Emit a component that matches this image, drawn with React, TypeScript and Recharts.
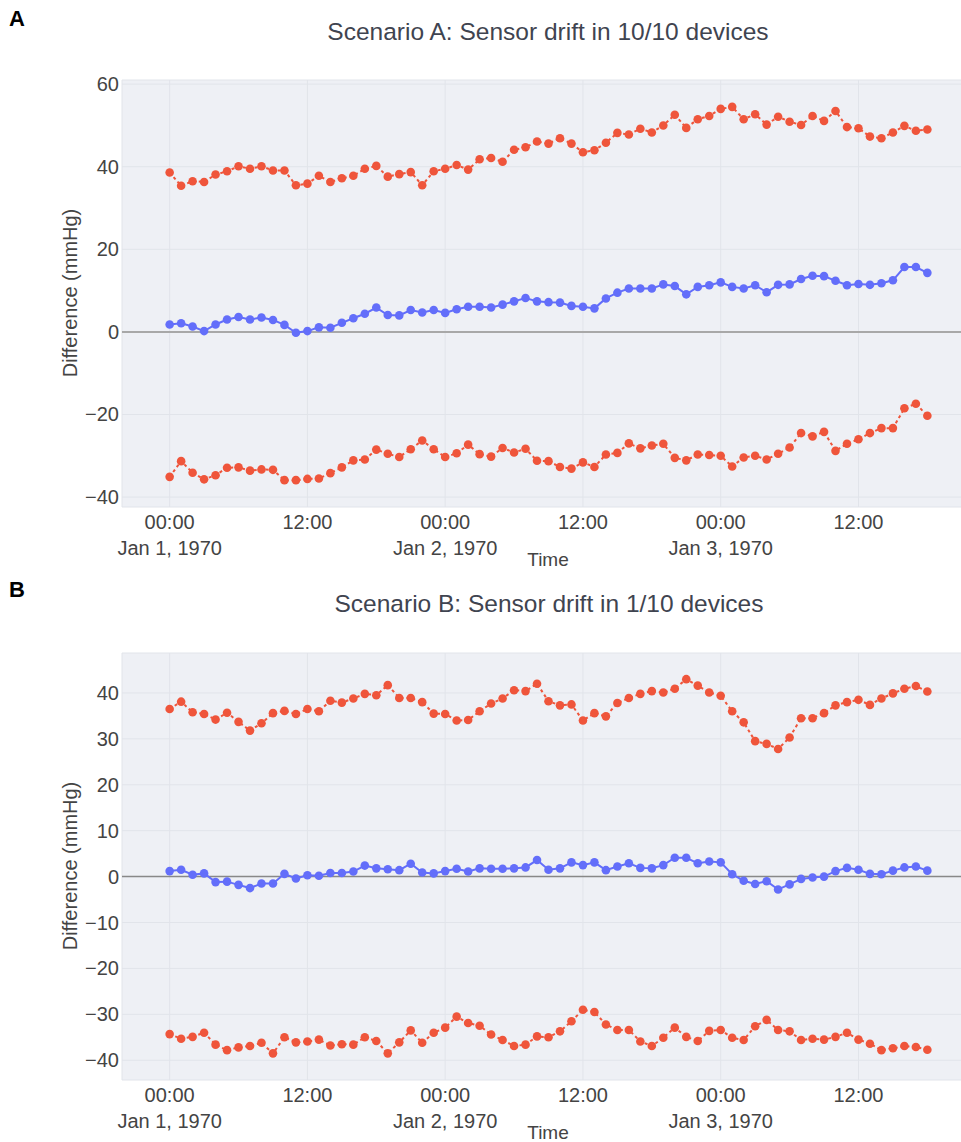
import React from 'react';
import { LineChart, Line, XAxis, YAxis, CartesianGrid, ReferenceLine } from 'recharts';

// ---------- data ----------
const hours = [
  0, 1, 2, 3, 4, 5, 6, 7, 8, 9, 10, 11, 12, 13, 14, 15, 16, 17, 18, 19, 20, 21, 22,
  23, 24, 25, 26, 27, 28, 29, 30, 31, 32, 33, 34, 35, 36, 37, 38, 39, 40, 41, 42, 43,
  44, 45, 46, 47, 48, 49, 50, 51, 52, 53, 54, 55, 56, 57, 58, 59, 60, 61, 62, 63, 64,
  65, 66,
];

const tickHours = [0, 12, 24, 36, 48, 60];
const tickTimeLabels = ['00:00', '12:00', '00:00', '12:00', '00:00', '12:00'];
const tickDateLabels = ['Jan 1, 1970', '', 'Jan 2, 1970', '', 'Jan 3, 1970', ''];

const yTicksA = [-40, -20, 0, 20, 40, 60];
const yTicksB = [-40, -30, -20, -10, 0, 10, 20, 30, 40];

const aUpper = [
  38.6, 35.4, 36.5, 36.3, 38.1, 38.9, 40.1, 39.5, 40.1, 39.1, 39.1, 35.5, 35.9, 37.8,
  36.3, 37.2, 37.8, 39.5, 40.2, 37.6, 38.2, 38.7, 35.5, 38.9, 39.5, 40.4, 39.3, 41.8,
  42.1, 41.2, 44.1, 44.7, 46.1, 45.6, 46.9, 45.6, 43.5, 44.0, 45.8, 48.2, 47.8, 49.2,
  48.3, 50.0, 52.6, 49.4, 51.5, 52.3, 54.0, 54.5, 51.5, 52.7, 50.2, 52.1, 50.9, 50.1,
  52.3, 51.1, 53.5, 49.6, 49.3, 47.3, 46.9, 48.3, 49.9, 48.7, 49.0,
];
const aMid = [
  1.8, 2.1, 1.3, 0.2, 1.8, 3.0, 3.6, 3.0, 3.5, 2.9, 1.7, -0.2, 0.2, 1.1, 1.0, 2.2,
  3.3, 4.4, 5.9, 4.1, 4.0, 5.3, 4.7, 5.3, 4.6, 5.5, 6.1, 6.1, 5.9, 6.6, 7.4, 8.2, 7.4,
  7.2, 7.1, 6.3, 6.1, 5.7, 8.1, 9.5, 10.5, 10.5, 10.5, 11.5, 11.1, 9.1, 10.9, 11.3,
  12.0, 10.9, 10.5, 11.3, 9.6, 11.4, 11.5, 12.8, 13.6, 13.5, 12.4, 11.3, 11.6, 11.4,
  11.8, 12.5, 15.7, 15.7, 14.3,
];
const aLower = [
  -35.1, -31.3, -34.1, -35.7, -34.7, -32.9, -32.8, -33.6, -33.3, -33.4, -35.9, -35.9,
  -35.6, -35.5, -34.2, -32.8, -31.1, -30.9, -28.5, -29.5, -30.3, -28.4, -26.3, -28.4,
  -30.3, -29.4, -27.3, -29.6, -30.2, -28.1, -29.2, -28.3, -31.2, -31.3, -32.7, -33.1,
  -31.6, -32.7, -29.7, -29.3, -27.0, -28.2, -27.5, -27.1, -30.5, -31.1, -29.7, -29.8,
  -30.0, -32.6, -30.4, -30.0, -30.9, -29.5, -28.0, -24.5, -25.3, -24.2, -28.8, -27.1,
  -26.0, -24.5, -23.3, -23.3, -18.5, -17.4, -20.3,
];

const bUpper = [
  36.5, 38.1, 35.8, 35.4, 34.2, 35.7, 33.7, 31.8, 33.4, 35.6, 36.1, 35.4, 36.5, 36.0,
  38.3, 37.9, 38.8, 39.8, 39.5, 41.7, 38.9, 38.9, 38.0, 35.5, 35.4, 34.0, 34.1, 36.0,
  37.7, 38.8, 40.6, 40.4, 42.0, 38.2, 37.3, 37.5, 34.0, 35.6, 34.9, 37.8, 38.9, 39.8,
  40.4, 40.1, 40.9, 43.0, 41.6, 40.1, 39.4, 36.0, 33.6, 29.5, 28.9, 27.8, 30.3, 34.5,
  34.5, 35.6, 37.3, 38.0, 38.5, 37.4, 38.8, 39.9, 40.9, 41.5, 40.3,
];
const bMid = [
  1.2, 1.5, 0.4, 0.7, -1.2, -1.1, -1.8, -2.5, -1.5, -1.5, 0.6, -0.4, 0.3, 0.2, 0.8,
  0.8, 1.1, 2.4, 1.8, 1.6, 1.4, 2.8, 0.9, 0.7, 1.2, 1.7, 1.1, 1.8, 1.7, 1.7, 1.8, 2.0,
  3.6, 1.5, 1.8, 3.1, 2.5, 3.1, 1.4, 2.2, 2.9, 1.9, 1.8, 2.5, 4.1, 4.1, 2.9, 3.3, 3.1,
  0.5, -0.9, -1.6, -1.0, -2.8, -1.7, -0.5, -0.2, 0.0, 1.2, 1.9, 1.5, 0.6, 0.5, 1.3,
  2.0, 2.2, 1.3,
];
const bLower = [
  -34.3, -35.3, -34.9, -34.0, -36.6, -37.8, -37.2, -36.9, -36.2, -38.5, -35.0, -36.1,
  -35.9, -35.5, -36.8, -36.5, -36.6, -35.0, -35.8, -38.5, -36.1, -33.5, -36.2, -34.0,
  -32.9, -30.5, -31.9, -32.5, -34.4, -35.6, -36.9, -36.6, -34.8, -35.0, -33.7, -31.5,
  -29.0, -29.5, -32.2, -33.4, -33.4, -35.9, -36.9, -35.1, -32.9, -34.9, -35.8, -33.6,
  -33.4, -35.1, -35.6, -32.6, -31.2, -33.4, -33.7, -35.6, -35.3, -35.5, -34.9, -34.0,
  -35.5, -36.4, -37.8, -37.4, -36.9, -37.1, -37.7,
];

// ---------- styles ----------
const RED = '#EF553B';
const BLUE = '#636EFA';
const BG = '#eef0f5';
const GRID = '#e1e4ea';
const TEXT = '#444';
const TITLE = '#3f4450';
const FONT = '"Liberation Sans", Arial, sans-serif';
const DOT_R = 4.3;

const dataA = hours.map((h, i) => ({ t: h, upper: aUpper[i], mid: aMid[i], lower: aLower[i] }));
const dataB = hours.map((h, i) => ({ t: h, upper: bUpper[i], mid: bMid[i], lower: bLower[i] }));

const makeXTick = (plotBottom: number) => (props: any) => {
  const { x, payload } = props;
  const idx = tickHours.indexOf(payload.value);
  return (
    <g>
      <text x={x} y={plotBottom + 21.5} textAnchor="middle" fontSize={20} fill={TEXT} fontFamily={FONT}>
        {tickTimeLabels[idx]}
      </text>
      {tickDateLabels[idx] ? (
        <text x={x} y={plotBottom + 48} textAnchor="middle" fontSize={20} fill={TEXT} fontFamily={FONT}>
          {tickDateLabels[idx]}
        </text>
      ) : null}
    </g>
  );
};

const YTick = (props: any) => {
  const { y, payload } = props;
  const v = payload.value;
  const s = v < 0 ? '\u2212' + Math.abs(v) : String(v);
  return (
    <text x={119} y={y} dy="0.35em" textAnchor="end" fontSize={20} fill={TEXT} fontFamily={FONT}>
      {s}
    </text>
  );
};

type PanelProps = {
  data: any[];
  top: number;
  height: number;
  marginTop: number;
  xAxisHeight: number;
  yDomain: [number, number];
  yTicks: number[];
  zeroColor: string;
  zeroWidth: number;
};

const Panel = ({ data, top, height, marginTop, xAxisHeight, yDomain, yTicks, zeroColor, zeroWidth }: PanelProps) => {
  const plotBottom = height - xAxisHeight;
  const XT = makeXTick(plotBottom);
  return (
    <div style={{ position: 'absolute', left: 0, top, width: 975, height }}>
      <LineChart width={975} height={height} data={data} margin={{ top: marginTop, right: 0, bottom: 0, left: 0 }}>
        <CartesianGrid fill={BG} stroke={GRID} strokeWidth={1} />
        <XAxis
          dataKey="t"
          type="number"
          domain={[-4.15, 70.15]}
          ticks={tickHours}
          interval={0}
          allowDataOverflow
          axisLine={false}
          tickLine={false}
          height={xAxisHeight}
          tick={<XT />}
        />
        <YAxis
          type="number"
          domain={yDomain}
          ticks={yTicks}
          interval={0}
          allowDataOverflow
          axisLine={false}
          tickLine={false}
          width={122}
          tick={<YTick />}
        />
        <ReferenceLine y={0} stroke={zeroColor} strokeWidth={zeroWidth} />
        <Line
          dataKey="upper"
          stroke={RED}
          strokeWidth={2}
          strokeDasharray="3 3"
          dot={{ r: DOT_R, fill: RED, stroke: RED, strokeWidth: 0 }}
          activeDot={false}
          isAnimationActive={false}
        />
        <Line
          dataKey="lower"
          stroke={RED}
          strokeWidth={2}
          strokeDasharray="3 3"
          dot={{ r: DOT_R, fill: RED, stroke: RED, strokeWidth: 0 }}
          activeDot={false}
          isAnimationActive={false}
        />
        <Line
          dataKey="mid"
          stroke={BLUE}
          strokeWidth={2}
          dot={{ r: DOT_R, fill: BLUE, stroke: BLUE, strokeWidth: 0 }}
          activeDot={false}
          isAnimationActive={false}
        />
      </LineChart>
    </div>
  );
};

export default function App() {
  return (
    <div
      style={{
        position: 'absolute',
        left: 0,
        top: 0,
        width: 961,
        height: 1142,
        overflow: 'hidden',
        background: '#fff',
        fontFamily: FONT,
      }}
    >
      <Panel
        data={dataA}
        top={0}
        height={577}
        marginTop={80}
        xAxisHeight={70}
        yDomain={[-42.4, 61]}
        yTicks={yTicksA}
        zeroColor="#a8a8a8"
        zeroWidth={2}
      />
      <Panel
        data={dataB}
        top={577}
        height={565}
        marginTop={76}
        xAxisHeight={62}
        yDomain={[-44.3, 48.7]}
        yTicks={yTicksB}
        zeroColor="#888"
        zeroWidth={1.5}
      />
      <svg
        width={961}
        height={1142}
        style={{ position: 'absolute', left: 0, top: 0, pointerEvents: 'none' }}
      >
        <g fontFamily={FONT} fill={TEXT}>
          <text x={9} y={26} fontSize={22} fontWeight="bold" fill="#000">A</text>
          <text x={9} y={597} fontSize={22} fontWeight="bold" fill="#000">B</text>
          <text x={548} y={40} fontSize={24.5} textAnchor="middle" fill={TITLE}>Scenario A: Sensor drift in 10/10 devices</text>
          <text x={549} y={612} fontSize={24.5} textAnchor="middle" fill={TITLE}>Scenario B: Sensor drift in 1/10 devices</text>
          <text x={548} y={566} fontSize={19} textAnchor="middle">Time</text>
          <text x={548} y={1139} fontSize={19} textAnchor="middle">Time</text>
          <text x={77} y={293} fontSize={20} textAnchor="middle" transform="rotate(-90 77 293)">Difference (mmHg)</text>
          <text x={77} y={866} fontSize={20} textAnchor="middle" transform="rotate(-90 77 866)">Difference (mmHg)</text>
        </g>
      </svg>
    </div>
  );
}
